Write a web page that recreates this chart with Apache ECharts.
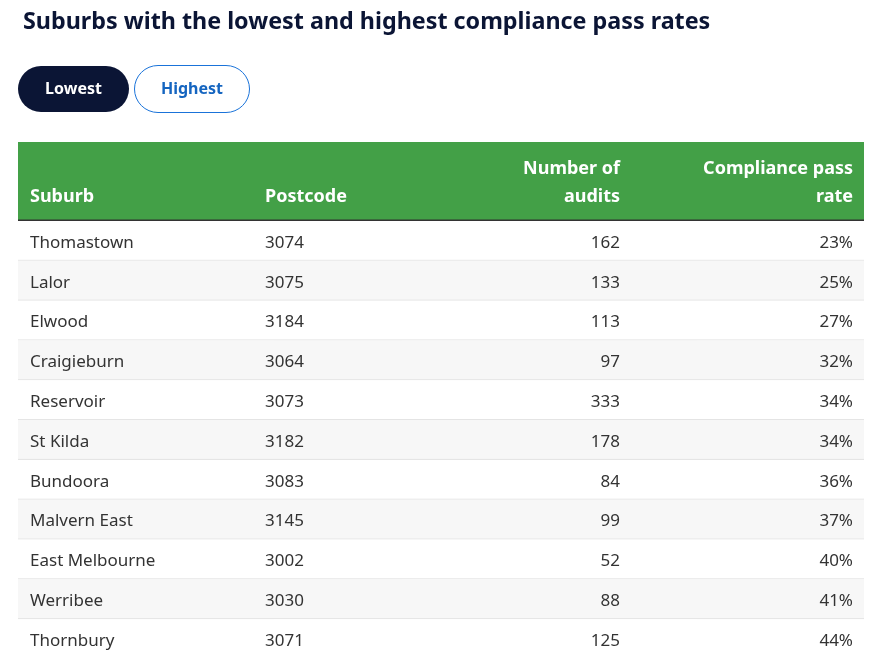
<!DOCTYPE html>
<html lang="en">
<head>
    <meta charset="UTF-8">
    <title>Compliance pass rates</title>
    <script src="https://cdn.jsdelivr.net/npm/echarts@6/dist/echarts.min.js"></script>
    <style>
        html, body { margin: 0; padding: 0; background: #fff; }
        #chart { width: 870px; height: 651px; }
    </style>
</head>
<body>
<div id="chart"></div>
<script>
    var suburbs = ['Thomastown', 'Lalor', 'Elwood', 'Craigieburn', 'Reservoir', 'St Kilda',
        'Bundoora', 'Malvern East', 'East Melbourne', 'Werribee', 'Thornbury'];
    var postcodes = ['3074', '3075', '3184', '3064', '3073', '3182', '3083', '3145', '3002', '3030', '3071'];
    var audits = [162, 133, 113, 97, 333, 178, 84, 99, 52, 88, 125];
    var passRates = [23, 25, 27, 32, 34, 34, 36, 37, 40, 41, 44];
    var headers = ['Suburb', 'Postcode', 'Number of\naudits', 'Compliance pass\nrate'];

    var FONT = '"Noto Sans", sans-serif';
    var GRID_LEFT = 18, GRID_W = 846;
    // column anchors relative to table left edge
    var COLS = [
        { x: 12, align: 'left' },
        { x: 247, align: 'left' },
        { x: 602, align: 'right' },
        { x: 835, align: 'right' }
    ];

    // one item per row: x is a dummy, y is the suburb category
    var rows = suburbs.map(function (s) {
        return [0, s];
    });

    function renderRow(params, api) {
        var i = params.dataIndex;
        var c = api.coord([0, i]);
        var h = api.size([0, 1])[1];
        var x0 = params.coordSys.x, w = params.coordSys.width;
        var top = c[1] - h / 2;
        var cells = [suburbs[i], postcodes[i], audits[i], passRates[i] + '%'];
        var children = [{
            type: 'rect',
            shape: { x: x0, y: top, width: w, height: h },
            style: { fill: i % 2 === 1 ? '#f7f7f7' : '#ffffff' }
        }, {
            type: 'line',
            shape: { x1: x0, y1: top + h - 0.5, x2: x0 + w, y2: top + h - 0.5 },
            style: { stroke: '#e3e3e3', lineWidth: 1 }
        }];
        cells.forEach(function (txt, k) {
            children.push({
                type: 'text',
                style: {
                    x: x0 + COLS[k].x, y: c[1] + 2,
                    text: String(txt),
                    fill: '#333333',
                    font: '17px ' + FONT,
                    align: COLS[k].align,
                    verticalAlign: 'middle'
                }
            });
        });
        return { type: 'group', children: children };
    }

    var headerGraphics = [{
        type: 'rect',
        shape: { x: GRID_LEFT, y: 142, width: GRID_W, height: 78 },
        style: { fill: '#43a047' }
    }, {
        type: 'rect',
        shape: { x: GRID_LEFT, y: 219.5, width: GRID_W, height: 2 },
        style: { fill: '#333333' }
    }];
    headers.forEach(function (t, k) {
        headerGraphics.push({
            type: 'text',
            style: {
                x: GRID_LEFT + COLS[k].x, y: 211,
                text: t,
                fill: '#ffffff',
                font: 'bold 18px ' + FONT,
                lineHeight: 28,
                align: COLS[k].align,
                verticalAlign: 'bottom'
            }
        });
    });

    var buttons = [{
        type: 'rect',
        shape: { x: 18, y: 66, width: 111, height: 46, r: 23 },
        style: { fill: '#0b1535' }
    }, {
        type: 'text',
        style: { x: 73.5, y: 89, text: 'Lowest', fill: '#ffffff', font: 'bold 16px ' + FONT, align: 'center', verticalAlign: 'middle' }
    }, {
        type: 'rect',
        shape: { x: 134.5, y: 65.5, width: 115, height: 47, r: 23.5 },
        style: { fill: '#ffffff', stroke: '#1a73d9', lineWidth: 1 }
    }, {
        type: 'text',
        style: { x: 192, y: 89, text: 'Highest', fill: '#1565c0', font: 'bold 16px ' + FONT, align: 'center', verticalAlign: 'middle' }
    }];

    var chart = echarts.init(document.getElementById('chart'));
    var option = {
        animation: false,
        title: {
            text: 'Suburbs with the lowest and highest compliance pass rates',
            left: 18,
            top: 6,
            textStyle: { fontFamily: FONT, fontSize: 23.3, fontWeight: 'bold', color: '#0b1535' }
        },
        // the last row runs past the bottom edge of the window, as in the original
        grid: { left: GRID_LEFT, top: 221, width: GRID_W, height: 438, outerBoundsMode: 'none' },
        xAxis: { type: 'value', min: 0, max: 1, show: false },
        yAxis: { type: 'category', data: suburbs, inverse: true, show: false },
        graphic: buttons.concat(headerGraphics),
        series: [{
            type: 'custom',
            renderItem: renderRow,
            clip: false,
            data: rows
        }]
    };
    chart.setOption(option);
</script>
</body>
</html>
